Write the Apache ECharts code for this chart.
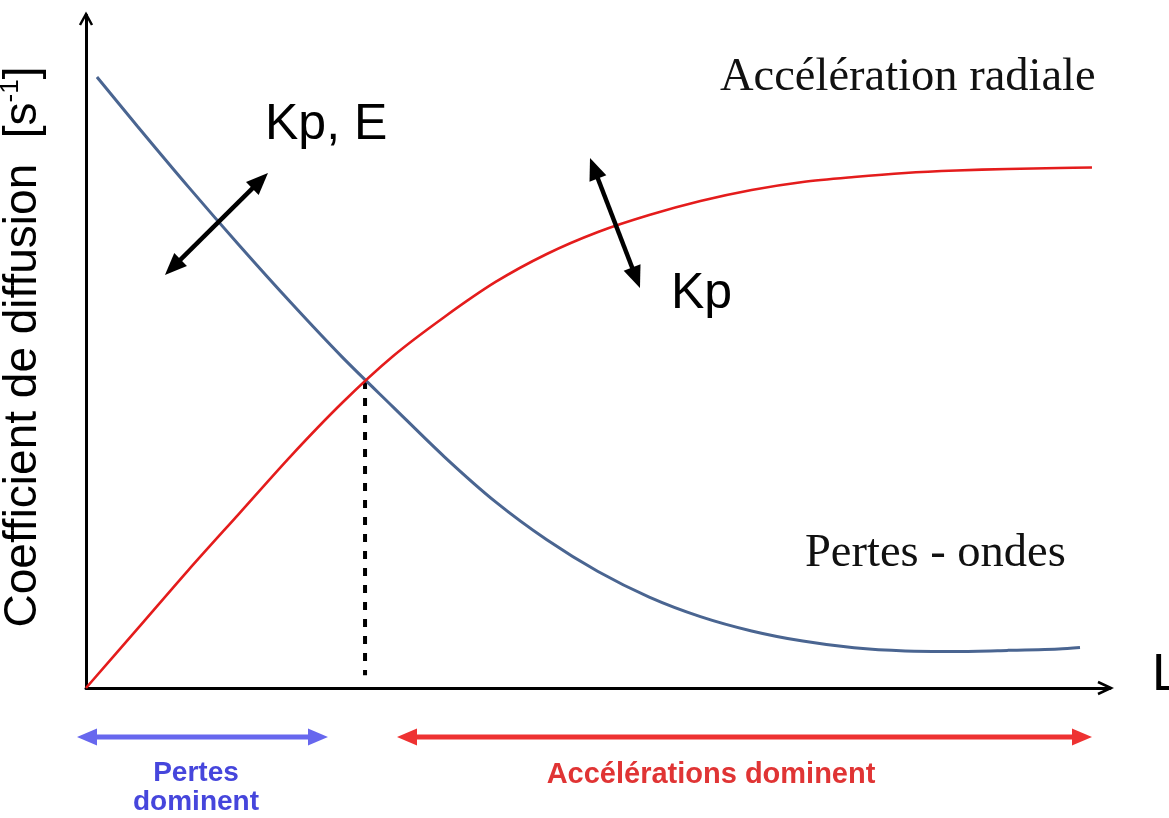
<!DOCTYPE html>
<html><head><meta charset="utf-8">
<script src="https://cdn.jsdelivr.net/npm/echarts@6/dist/echarts.min.js"></script>
<style>html,body{margin:0;padding:0;background:#fff}#c{width:1169px;height:818px}</style>
</head><body><div id="c"></div>
<script>
// Wave losses (blue) : L (arbitrary units) and diffusion coefficient (arbitrary units)
const lossL = [0.107, 0.5, 1.0, 1.5, 2.0, 2.5, 3.0, 3.5, 4.0, 4.5, 5.0, 5.5, 6.0, 6.5, 7.0, 7.5, 8.0, 8.5, 9.0, 9.5, 9.707];
const lossD = [9.079, 8.351, 7.446, 6.571, 5.727, 4.920, 4.174, 3.435, 2.765, 2.202, 1.731, 1.351, 1.061, 0.848, 0.697, 0.597, 0.551, 0.544, 0.559, 0.581, 0.602];
// Radial acceleration (red)
const accL = [0, 0.5, 1.0, 1.5, 2.0, 2.5, 3.0, 3.5, 4.0, 4.5, 5.0, 5.5, 6.0, 6.5, 7.0, 7.5, 8.0, 8.5, 9.0, 9.5, 9.824];
const accD = [0, 0.875, 1.753, 2.600, 3.447, 4.235, 4.933, 5.513, 6.033, 6.449, 6.776, 7.028, 7.236, 7.400, 7.519, 7.593, 7.652, 7.689, 7.712, 7.727, 7.734];
// Crossing point marker (dashed)
const crossL = [2.725, 2.725];
const crossD = [4.56, 0.19];

// Annotation anchors (data units)
const arrowKpE = [[0.771, 6.137], [1.777, 7.652]];
const arrowKp = [[4.922, 7.875], [5.410, 5.944]];
const arrowLoss = [[-0.088, -0.728], [2.363, -0.728]];
const arrowAcc = [[3.037, -0.728], [9.824, -0.728]];

const zip = (a, b) => a.map((v, i) => [v, b[i]]);

const chart = echarts.init(document.getElementById('c'), null, {renderer: 'canvas'});
chart.setOption({
  backgroundColor: '#ffffff',
  animation: false,
  grid: {left: 86, right: 59, top: 15, bottom: 130},
  xAxis: {type: 'value', min: 0, max: 10, axisLine: {show: true, onZero: false, lineStyle: {color: '#000', width: 3}},
    axisTick: {show: false}, axisLabel: {show: false}, splitLine: {show: false}},
  yAxis: {type: 'value', min: 0, max: 10, axisLine: {show: true, onZero: false, lineStyle: {color: '#000', width: 3}},
    axisTick: {show: false}, axisLabel: {show: false}, splitLine: {show: false}},
  series: [
    {type: 'line', name: 'Pertes - ondes', data: zip(lossL, lossD), showSymbol: false, smooth: 0.3,
      lineStyle: {color: '#4a6591', width: 3}, z: 3},
    {type: 'line', name: 'Accélération radiale', data: zip(accL, accD), showSymbol: false, smooth: 0.3,
      lineStyle: {color: '#e41c1c', width: 2.6}, z: 3},
    {type: 'line', name: 'cross', data: zip(crossL, crossD), showSymbol: false,
      lineStyle: {color: '#000', width: 4, type: [8, 9]}, z: 2}
  ]
});

function px(p) { return chart.convertToPixel({gridIndex: 0}, p); }
function dblArrow(a, b, color, lw, hl, hw) {
  const p1 = px(a), p2 = px(b);
  const dx = p2[0] - p1[0], dy = p2[1] - p1[1];
  const len = Math.hypot(dx, dy), ux = dx / len, uy = dy / len, nx = -uy, ny = ux;
  const head = (t, s) => {
    const bx = t[0] + s * ux * hl, by = t[1] + s * uy * hl;
    return {type: 'polygon', shape: {points: [t, [bx + nx * hw / 2, by + ny * hw / 2], [bx - nx * hw / 2, by - ny * hw / 2]]},
      style: {fill: color}, z: 10};
  };
  return [
    {type: 'line', shape: {x1: p1[0] + ux * hl * 0.8, y1: p1[1] + uy * hl * 0.8, x2: p2[0] - ux * hl * 0.8, y2: p2[1] - uy * hl * 0.8},
      style: {stroke: color, lineWidth: lw}, z: 10},
    head(p1, 1), head(p2, -1)
  ];
}

const xe = px([10, 0]), ye = px([0, 10]);
const g = [];
// open chevrons at axis ends
g.push({type: 'polyline', shape: {points: [[xe[0] - 12, xe[1] - 6], [xe[0] + 1, xe[1]], [xe[0] - 12, xe[1] + 6]]},
  style: {stroke: '#000', lineWidth: 2.5, fill: null}, z: 10});
g.push({type: 'polyline', shape: {points: [[ye[0] - 6, ye[1] + 10], [ye[0], ye[1] - 1], [ye[0] + 6, ye[1] + 10]]},
  style: {stroke: '#000', lineWidth: 2.5, fill: null}, z: 10});
g.push(...dblArrow(arrowKpE[0], arrowKpE[1], '#000', 4.5, 22, 18));
g.push(...dblArrow(arrowKp[0], arrowKp[1], '#000', 4.5, 22, 18));
g.push(...dblArrow(arrowLoss[0], arrowLoss[1], '#6767ee', 5, 20, 17));
g.push(...dblArrow(arrowAcc[0], arrowAcc[1], '#ee3232', 5, 20, 17));

const sans = "'Liberation Sans', Arial, sans-serif";
const serif = "'Liberation Serif', 'Times New Roman', serif";
const txt = (x, y, text, font, size, color, align, extra) => Object.assign({type: 'text', x: x, y: y, z: 20,
  style: Object.assign({text: text, fontFamily: font, fontSize: size, fill: color, align: align || 'left', verticalAlign: 'middle'}, extra || {})});
g.push(txt(265, 125, 'Kp, E', sans, 50, '#000'));
g.push(txt(671, 294, 'Kp', sans, 50, '#000'));
g.push(txt(1152, 676, 'L', sans, 52, '#000'));
g.push(txt(720, 78, 'Accélération radiale', serif, 46.5, '#111'));
g.push(txt(805, 554, 'Pertes - ondes', serif, 46.5, '#111'));
g.push(txt(196, 773, 'Pertes', sans, 28, '#4646dc', 'center', {fontWeight: 'bold'}));
g.push(txt(196, 802, 'dominent', sans, 28, '#4646dc', 'center', {fontWeight: 'bold'}));
g.push(txt(711, 775, 'Accélérations dominent', sans, 29, '#e03434', 'center', {fontWeight: 'bold'}));
g.push({type: 'text', x: 23, y: 347, rotation: Math.PI / 2, z: 20,
  style: {text: '{a|Coefficient de diffusion  [s}{b|-1}{a|]}', align: 'center', verticalAlign: 'middle',
    rich: {a: {fontFamily: sans, fontSize: 46, fill: '#000', lineHeight: 50},
           b: {fontFamily: sans, fontSize: 26, fill: '#000', verticalAlign: 'top', lineHeight: 50}}}});
chart.setOption({graphic: {elements: g}});
</script></body></html>
